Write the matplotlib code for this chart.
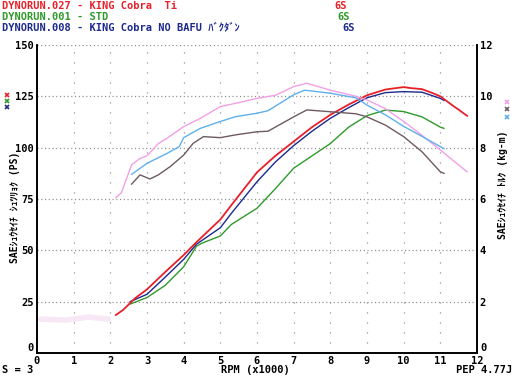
import matplotlib
matplotlib.use("Agg")
import matplotlib.pyplot as plt

plt.rcParams['lines.scale_dashes'] = False

# ---------------- data ----------------
red_rpm = [2.15, 2.35, 2.67, 3.0, 3.5, 4.0, 4.35, 5.0, 5.3, 6.0, 6.5, 7.0, 7.5, 8.0, 8.5, 9.0, 9.3, 9.5, 9.7, 10.0, 10.2, 10.5, 10.8, 11.0, 11.3, 11.5, 11.73]
red_ps = [18.5, 21, 26.6, 31, 39.5, 47.7, 54, 65, 72, 88, 96, 103, 110, 116, 121, 125.5, 127.2, 128.3, 128.8, 129.5, 129.0, 128.5, 126.5, 125, 121, 118.5, 115.5]

blue_rpm = [2.54, 3.0, 3.5, 4.0, 4.35, 5.0, 5.3, 6.0, 6.5, 7.0, 7.5, 8.0, 8.5, 9.0, 9.5, 10.0, 10.5, 11.0, 11.1]
blue_ps = [25, 28.6, 37, 45.6, 53, 61, 68, 83.4, 93, 101, 108, 114.3, 119.5, 124.3, 126.8, 127.3, 127, 124, 123]

green_rpm = [2.55, 3.0, 3.5, 4.0, 4.35, 4.5, 5.0, 5.3, 6.0, 6.5, 7.0, 7.5, 8.0, 8.5, 9.0, 9.5, 10.0, 10.5, 11.0, 11.1]
green_ps = [23.9, 27, 33, 42, 52, 53.5, 57, 62.6, 70.5, 80, 90, 96, 102, 110, 115.6, 118.3, 117.6, 115, 110, 109.4]

pink_rpm = [2.15, 2.3, 2.58, 2.81, 3.0, 3.31, 3.54, 4.0, 4.45, 5.0, 5.42, 6.0, 6.5, 7.0, 7.36, 8.0, 8.7, 9.0, 9.5, 10.0, 10.5, 11.0, 11.4, 11.73]
pink_kgm = [6.05, 6.24, 7.33, 7.58, 7.68, 8.16, 8.36, 8.82, 9.14, 9.6, 9.73, 9.92, 10.04, 10.38, 10.51, 10.24, 10.0, 9.86, 9.52, 9.02, 8.48, 7.91, 7.44, 7.06]

lblue_rpm = [2.58, 3.0, 3.55, 3.88, 4.0, 4.45, 5.0, 5.42, 6.0, 6.3, 7.0, 7.3, 8.0, 8.7, 9.0, 9.5, 10.0, 10.5, 11.0, 11.1]
lblue_kgm = [6.96, 7.39, 7.78, 8.04, 8.39, 8.75, 9.02, 9.21, 9.34, 9.44, 10.06, 10.24, 10.12, 9.94, 9.66, 9.28, 8.83, 8.44, 8.04, 7.96]

gray_rpm = [2.58, 2.81, 3.08, 3.31, 3.63, 4.0, 4.26, 4.54, 5.0, 5.42, 6.0, 6.3, 7.0, 7.36, 8.0, 8.7, 9.0, 9.5, 10.0, 10.5, 11.0, 11.1]
gray_kgm = [6.58, 6.94, 6.78, 6.94, 7.26, 7.71, 8.17, 8.43, 8.39, 8.5, 8.62, 8.64, 9.2, 9.47, 9.4, 9.32, 9.2, 8.88, 8.43, 7.84, 7.06, 7.0]

smear_rpm = [0.1, 0.8, 1.4, 1.95]
smear_ps = [16.5, 16, 17.5, 16.5]

ps_ticks = [0, 25, 50, 75, 100, 125, 150]
kgm_ticks = [0, 2, 4, 6, 8, 10, 12]
rpm_ticks = list(range(0, 13))

header = [
    ("DYNORUN.027 - KING Cobra  Ti", "6S", "#e8202a"),
    ("DYNORUN.001 - STD", "6S", "#2f9a2a"),
    ("DYNORUN.008 - KING Cobra NO BAFU ﾊﾞｸﾀﾞﾝ", "6S", "#1c2a8c"),
]

# ---------------- figure ----------------
W, H = 514, 376
fig = plt.figure(figsize=(W / 100, H / 100), dpi=100)
fig.patch.set_facecolor("white")
ax = fig.add_axes([37 / W, (H - 353) / H, 440 / W, 308 / H])
ax2 = ax.twinx()

ax.set_xlim(0, 12)
ax.set_ylim(0, 150)
ax2.set_ylim(0, 12)

mono = ['DejaVu Sans Mono', 'Noto Sans CJK JP']
tfont = dict(family=mono, weight='bold')

# grid
for y in ps_ticks[1:]:
    ax.plot([0, 12], [y, y], color="#8a8a8a", lw=0.9, ls=(0, (0.8, 1.9)), zorder=1)
for x in rpm_ticks[1:-1]:
    ax.plot([x, x], [0, 150], color="#8a8a8a", lw=0.9, ls=(0, (0.8, 6.4)), zorder=1)

# faint smear
ax.plot(smear_rpm, smear_ps, color="#f8e8f6", lw=4, solid_capstyle='round', zorder=1)

# torque curves
ax2.plot(pink_rpm, pink_kgm, color="#f2a0e6", lw=1.0, zorder=2)
ax2.plot(lblue_rpm, lblue_kgm, color="#5fb0ec", lw=1.0, zorder=2)
ax2.plot(gray_rpm, gray_kgm, color="#6e5a62", lw=1.0, zorder=2)

# power curves
ax.plot(green_rpm, green_ps, color="#2f9a2a", lw=1.0, zorder=3)
ax.plot(blue_rpm, blue_ps, color="#1c2a8c", lw=1.0, zorder=3)
ax.plot(red_rpm, red_ps, color="#e8202a", lw=1.3, zorder=4)

# spines
for a in (ax, ax2):
    a.spines['top'].set_visible(False)
    for s in ('left', 'bottom', 'right'):
        a.spines[s].set_linewidth(1.2)
        a.spines[s].set_color('black')

ax.set_xticks(rpm_ticks)
ax.set_yticks(ps_ticks)
ax.set_yticklabels([''] + [str(v) for v in ps_ticks[1:]])
ax2.set_yticks(kgm_ticks)
ax2.set_yticklabels([''] + [str(v) for v in kgm_ticks[1:]])
ax.tick_params(length=0, pad=2, labelsize=7.5)
ax2.tick_params(length=0, pad=2, labelsize=7.5)
for lab in ax.get_xticklabels() + ax.get_yticklabels() + ax2.get_yticklabels():
    lab.set_fontfamily(mono)
    lab.set_fontweight('bold')

# zero labels of the y axes sit slightly above the baseline
fig.text(34 / W, (H - 348) / H, str(ps_ticks[0]), fontsize=7.5, va='center', ha='right', **tfont)
fig.text(480 / W, (H - 348) / H, str(kgm_ticks[0]), fontsize=7.5, va='center', ha='left', **tfont)

# header
for i, (t, s, c) in enumerate(header):
    y = H - (6 + 11 * i)
    fig.text(2 / W, y / H, t, color=c, fontsize=7.5, va='center', ha='left', **tfont)
    fig.text((334 + (8 if i == 2 else (3 if i == 1 else 0))) / W, y / H, s, color=c,
             fontsize=7.5, va='center', ha='left', **tfont)

# bottom labels
fig.text(2 / W, (H - 370) / H, "S = 3", fontsize=7.5, va='center', ha='left', **tfont)
fig.text(255 / W, (H - 370) / H, "RPM (x1000)", fontsize=7.5, va='center', ha='center', **tfont)
fig.text(512 / W, (H - 370) / H, "PEP 4.77J", fontsize=7.5, va='center', ha='right', **tfont)

# axis titles
fig.text(15 / W, (H - 207) / H, "SAEｼｭｳｾｲﾁ ｼｭﾂﾘｮｸ (PS)", rotation=90, fontsize=7,
         va='center', ha='center', family=mono, weight='bold')
fig.text(503 / W, (H - 185) / H, "SAEｼｭｳｾｲﾁ ﾄﾙｸ (kg-m)", rotation=90, fontsize=7,
         va='center', ha='center', family=mono, weight='bold')

# legend markers (drawn as markers, not text)
for y, c in [(95, "#e8202a"), (101, "#2f9a2a"), (107, "#1c2a8c")]:
    fig.add_artist(plt.Line2D([7 / W], [(H - y) / H], transform=fig.transFigure,
                              marker='x', ms=3, mew=1.2, color=c, ls='none'))
for y, c in [(102, "#f2a0e6"), (109, "#6e5a62"), (117, "#5fb0ec")]:
    fig.add_artist(plt.Line2D([507 / W], [(H - y) / H], transform=fig.transFigure,
                              marker='x', ms=3, mew=1.2, color=c, ls='none'))

fig.savefig("out.png", dpi=100, facecolor="white")
